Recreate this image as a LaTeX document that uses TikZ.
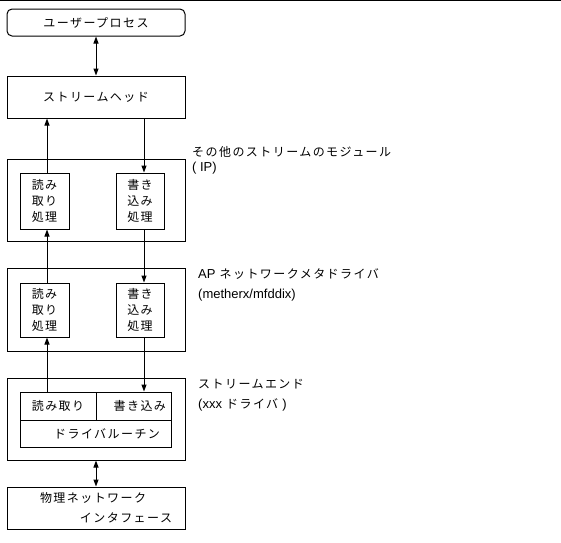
\documentclass[tikz,border=0pt]{standalone}
\usepackage{fontspec}
\setmainfont[LetterSpace=12]{Noto Sans CJK JP}
\newfontfamily\latin{Liberation Sans}
\usetikzlibrary{arrows.meta}
\tikzset{
  box/.style={draw, line width=1pt, inner sep=0pt, minimum width=178pt},
  sub/.style={draw, line width=1pt, inner sep=0pt, align=center},
  lbl/.style={anchor=west, align=left, inner sep=0pt},
  tip/.tip={Triangle[length=7pt,width=5pt]},
  conn/.style={line width=1pt, -tip},
  dconn/.style={line width=1pt, tip-tip},
}
\newcommand{\lt}[1]{{\latin\fontsize{13}{16}\selectfont #1}}
\begin{document}
\begin{tikzpicture}[x=1pt, y=-1pt, font=\fontsize{12}{16}\selectfont]
\useasboundingbox (0,0) rectangle (561,542);
\draw[line width=1pt] (0,0.5) coordinate (tl) -- (561,0.5) coordinate (tr);
% columns of the connectors
\coordinate (xl) at (47,0);
\coordinate (xm) at (96,0);
\coordinate (xr) at (144,0);
% user process and stream head
\node[box, rounded corners=5pt, minimum height=27pt] (up) at (96,22.5) {ユーザープロセス};
\node[box, minimum height=42pt] (sh) at (96,97) {ストリームヘッド};
% module 1
\node[box, minimum height=82pt] (m1) at (96,200) {};
\node[sub, minimum width=49pt, minimum height=56pt] (m1l) at (44.5,201) {読み\\取り\\処理};
\node[sub, minimum width=48pt, minimum height=56pt] (m1r) at (140,201) {書き\\込み\\処理};
\node[lbl, font=\fontsize{12}{15}\selectfont] (t1) at (192,160.5) {その他のストリームのモジュール\\\lt{( IP)}};
% module 2
\node[box, minimum height=83pt] (m2) at (96,309.5) {};
\node[sub, minimum width=49pt, minimum height=54pt] (m2l) at (44.5,310) {読み\\取り\\処理};
\node[sub, minimum width=48pt, minimum height=54pt] (m2r) at (140,310) {書き\\込み\\処理};
\node[lbl, font=\fontsize{12}{20}\selectfont] (t2) at (198,285) {\lt{AP} ネットワークメタドライバ\\\lt{(metherx/mfddix)}};
% stream end
\node[box, minimum height=82pt] (se) at (96,419) {};
\node[sub, minimum width=76pt, minimum height=28pt] (serd) at (58,406) {読み取り};
\node[sub, text width=65pt, align=right, inner xsep=5pt, minimum height=28pt] (sewr) at (133.5,406) {書き込み};
\node[sub, text width=129pt, align=right, inner xsep=11pt, minimum height=27pt] (drv) at (95.5,433.5) {ドライバルーチン};
\node[lbl, font=\fontsize{12}{20}\selectfont] (t3) at (198,395) {ストリームエンド\\\lt{(xxx} ドライバ \lt{)}};
% physical interface
\node[box, minimum height=42pt, text width=152pt, align=left, inner xsep=13pt, font=\fontsize{12}{20}\selectfont] (phy) at (96,508)
  {\hspace*{20pt}物理ネットワーク\\\hspace*{\fill}インタフェース};
% connectors
\draw[dconn] (up.south -| xm) -- (sh.north -| xm);
\draw[conn] (m1l.north -| xl) -- (sh.south -| xl);
\draw[conn] (sh.south -| xr) -- (m1r.north -| xr);
\draw[conn] (m2l.north -| xl) -- (m1l.south -| xl);
\draw[conn] (m1r.south -| xr) -- (m2r.north -| xr);
\draw[conn] (serd.north -| xl) -- (m2l.south -| xl);
\draw[conn] (m2r.south -| xr) -- (sewr.north -| xr);
\draw[dconn] (se.south -| xm) -- (phy.north -| xm);
\end{tikzpicture}
\end{document}
